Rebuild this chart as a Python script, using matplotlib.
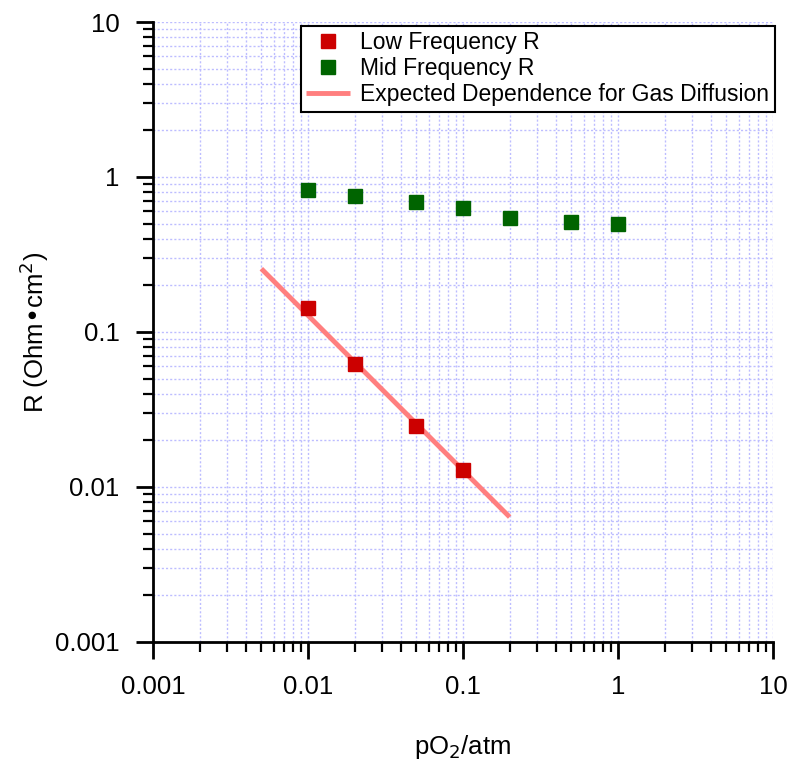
import numpy as np
import matplotlib
matplotlib.use("Agg")
import matplotlib.pyplot as plt
from matplotlib.ticker import LogLocator, FixedLocator, FixedFormatter, NullFormatter

plt.rcParams['font.family'] = ['Liberation Sans', 'DejaVu Sans']

# data
po2_low = [0.01, 0.02, 0.05, 0.1]
r_low = [0.143, 0.0622, 0.0248, 0.0129]
po2_mid = [0.01, 0.02, 0.05, 0.1, 0.2, 0.5, 1.0]
r_mid = [0.824, 0.754, 0.69, 0.63, 0.544, 0.513, 0.497]
fit_x = [0.005, 0.2]
fit_y = [0.256, 0.0064]
decades = [0.001, 0.01, 0.1, 1, 10]
decade_labels = ['0.001', '0.01', '0.1', '1', '10']

fig = plt.figure(figsize=(7.89, 7.64), dpi=100)
ax = fig.add_axes([0.1939, 0.1597, 0.7858, 0.8115])
ax.set_xscale('log')
ax.set_yscale('log')

ax.plot(po2_low, r_low, 's', color='#cc0000', markersize=9.5, label='Low Frequency R', zorder=4)
ax.plot(po2_mid, r_mid, 's', color='#006400', markersize=9.5, label='Mid Frequency R', zorder=4)
ax.plot(fit_x, fit_y, '-', color='#ff7f7f', linewidth=3.5,
        label='Expected Dependence for Gas Diffusion', zorder=3, solid_capstyle='butt')

ax.set_xlim(0.001, 10)
ax.set_ylim(0.001, 10)

for axis in (ax.xaxis, ax.yaxis):
    axis.set_major_locator(FixedLocator(decades))
    axis.set_major_formatter(FixedFormatter(decade_labels))
    axis.set_minor_locator(LogLocator(base=10, subs=np.arange(2, 10), numticks=20))
    axis.set_minor_formatter(NullFormatter())

# dotted lavender grid on major and minor decades
ax.grid(True, which='both', color='#bdbdff', linestyle=(0, (1.5, 1.5)), linewidth=1.0)
ax.set_axisbelow(True)

for s in ('top', 'right'):
    ax.spines[s].set_visible(False)
for s in ('left', 'bottom'):
    ax.spines[s].set_linewidth(2)

ax.tick_params(which='major', direction='out', length=12, width=2, labelsize=18.5, pad=12)
ax.tick_params(which='minor', direction='out', length=7, width=1.6)

ax.set_xlabel('pO$_2$/atm', fontsize=18.5)
ax.set_ylabel('R (Ohm•cm$^2$)', fontsize=18.5)
ax.xaxis.set_label_coords(0.5, -0.147)
ax.yaxis.set_label_coords(-0.165, 0.5)

leg = ax.legend(loc='upper right', bbox_to_anchor=(1.003, 0.994), fontsize=16.5,
                frameon=True, fancybox=False, framealpha=1, edgecolor='black',
                handlelength=1.9, borderpad=0.25, labelspacing=0.12, handletextpad=0.45,
                borderaxespad=0.0)
leg.get_frame().set_linewidth(1.5)

fig.savefig('out.png', dpi=100)
